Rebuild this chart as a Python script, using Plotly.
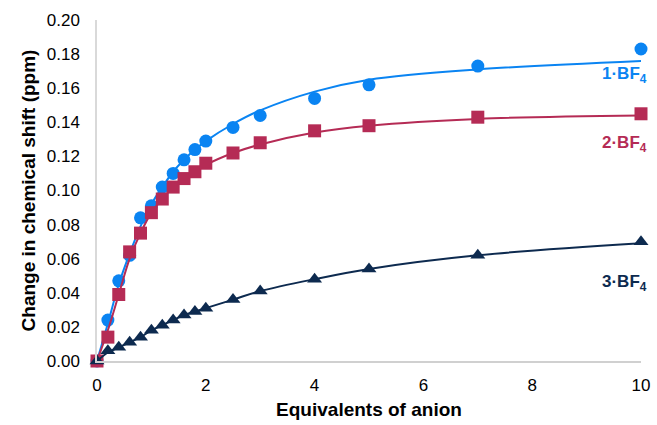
import plotly.graph_objects as go

equiv = [0, 0.2, 0.4, 0.6, 0.8, 1.0, 1.2, 1.4, 1.6, 1.8, 2.0, 2.5, 3, 4, 5, 7, 10]
s1 = [0, 0.024, 0.047, 0.062, 0.084, 0.091, 0.102, 0.110, 0.118, 0.124, 0.129, 0.137, 0.144, 0.154, 0.162, 0.173, 0.183]
s1_fit = [0, 0.022, 0.045, 0.063, 0.079, 0.092, 0.102, 0.111, 0.118, 0.124, 0.129, 0.139, 0.147, 0.158, 0.165, 0.171, 0.176]
s2 = [0, 0.014, 0.039, 0.064, 0.075, 0.087, 0.095, 0.102, 0.107, 0.111, 0.116, 0.122, 0.128, 0.135, 0.138, 0.143, 0.145]
s2_fit = [0, 0.018, 0.039, 0.060, 0.075, 0.087, 0.095, 0.102, 0.107, 0.111, 0.115, 0.122, 0.127, 0.134, 0.138, 0.142, 0.144]
s3 = [0, 0.006, 0.008, 0.011, 0.014, 0.018, 0.021, 0.024, 0.027, 0.029, 0.031, 0.036, 0.041, 0.048, 0.054, 0.062, 0.070]
s3_fit = [0, 0.005, 0.008, 0.011, 0.014, 0.018, 0.021, 0.024, 0.027, 0.029, 0.031, 0.036, 0.041, 0.048, 0.054, 0.062, 0.069]

labels = ["1·BF<sub>4</sub>", "2·BF<sub>4</sub>", "3·BF<sub>4</sub>"]
colors = ["#0A84F2", "#B52B55", "#0D2A4F"]
symbols = ["circle", "square", "triangle-up"]
label_y = [0.168, 0.127, 0.046]

fig = go.Figure()
for data, fit, col, sym in [(s1, s1_fit, colors[0], symbols[0]),
                            (s2, s2_fit, colors[1], symbols[1]),
                            (s3, s3_fit, colors[2], symbols[2])]:
    fig.add_trace(go.Scatter(x=equiv, y=fit, mode="lines", line=dict(color=col, width=2, shape="spline"),
                             showlegend=False, hoverinfo="skip", cliponaxis=False))
    fig.add_trace(go.Scatter(x=equiv, y=data, mode="markers",
                             marker=dict(symbol=sym, size=13, color=col, line=dict(width=0)),
                             showlegend=False, cliponaxis=False))

for lab, ly, col in zip(labels, label_y, colors):
    fig.add_annotation(x=10, y=ly, text="<b>" + lab + "</b>", showarrow=False, xanchor="right",
                       xshift=8, yanchor="middle",
                       font=dict(color=col, size=17, family="Liberation Sans, Arial"))

fig.update_layout(
    width=657, height=425,
    margin=dict(l=97, r=16, t=20, b=64),
    plot_bgcolor="white", paper_bgcolor="white",
    font=dict(family="Liberation Sans, Arial", size=17, color="black"),
    xaxis=dict(range=[0, 10], tickvals=[0, 2, 4, 6, 8, 10], showgrid=False, zeroline=False,
               automargin=False,
               showline=True, linecolor="#D0D0D0", linewidth=1.5, ticks="", ticklabelstandoff=8,
               tickfont=dict(size=17),
               title=dict(text="<b>Equivalents of anion</b>", font=dict(size=19), standoff=9)),
    yaxis=dict(range=[0, 0.20], tickvals=[0, 0.02, 0.04, 0.06, 0.08, 0.10, 0.12, 0.14, 0.16, 0.18, 0.20],
               tickformat=".2f", showgrid=False, zeroline=False, ticklabelstandoff=12,
               automargin=False,
               tickfont=dict(size=17),
               showline=True, linecolor="#D9D9D9", linewidth=1.5, ticks="",
               title=dict(text="<b>Change in chemical shift (ppm)</b>", font=dict(size=19), standoff=6)),
)

fig.write_html("out.html", config={"displayModeBar": False},
               post_script="document.body.style.margin='0';document.body.style.padding='0';")
